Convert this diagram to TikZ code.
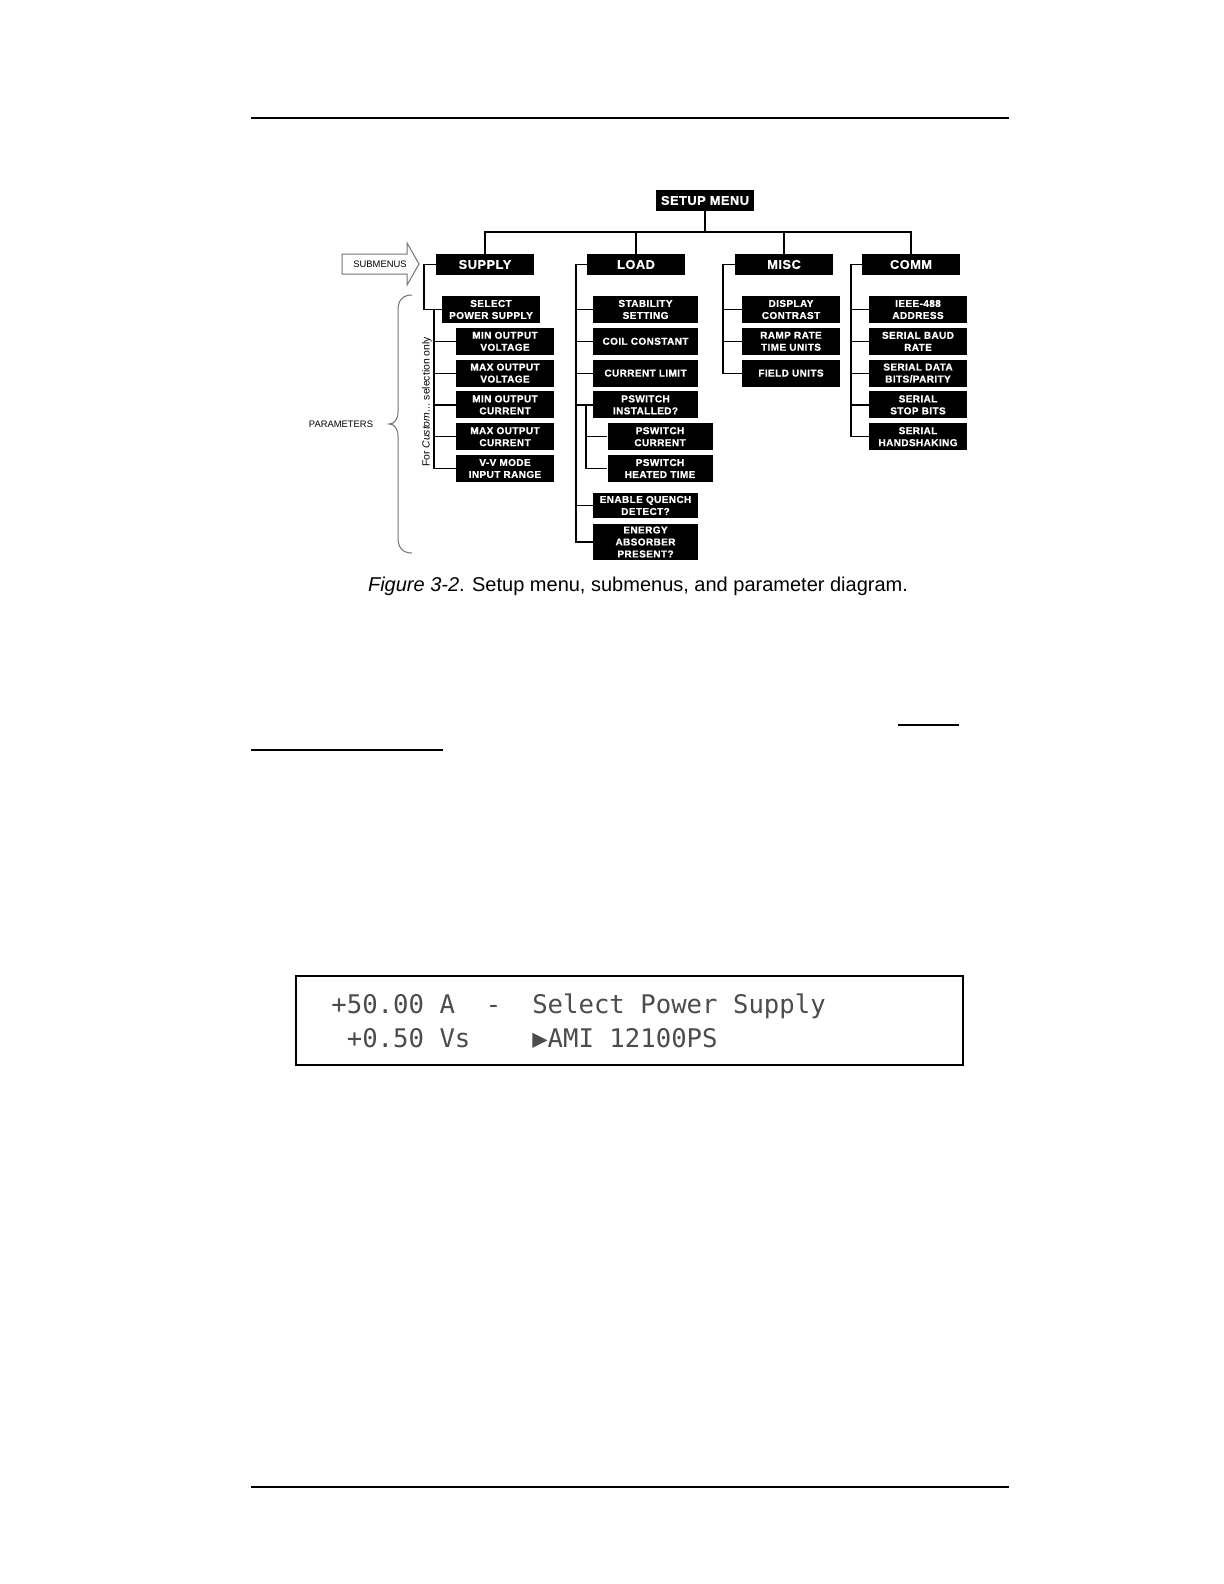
\documentclass[tikz,border=0pt]{standalone}
\usepackage{fontspec}
\setmainfont{Liberation Sans}
\newfontfamily\boxfont{Liberation Sans Bold}[LetterSpace=4, FakeBold=0.8]
\newfontfamily\lcdfont{DejaVu Sans Mono}
\begin{document}
\begin{tikzpicture}[x=0.5pt,y=-0.5pt,
  bx/.style={fill=black, text=white, font=\boxfont\fontsize{5}{6}\selectfont, align=center, inner sep=0pt, minimum height=13.5pt},
  sw/.style={minimum width=49pt},
  lw/.style={minimum width=52.5pt},
  hd/.style={fill=black, text=white, font=\boxfont\fontsize{6.4}{7.5}\selectfont, inner sep=0pt, minimum width=49pt, minimum height=10.5pt},
  ln/.style={line width=0.6pt},
  rule/.style={line width=1pt},
  lcd/.style={font=\lcdfont\fontsize{12.83}{14}\selectfont, text=black!70, inner sep=0pt, anchor=base west},
  lbl/.style={font=\fontsize{4.7}{5.5}\selectfont, inner sep=0pt},
  gr/.style={draw=black!55, line width=0.5pt}
]
\useasboundingbox (0,0) rectangle (1224,1584);
\fill[white] (0,0) rectangle (1224,1584);

% page rules
\draw[rule] (251,118) -- (1009,118);
\draw[rule] (251,1487) -- (1009,1487);
\draw[rule] (898,724.5) -- (959,724.5);
\draw[rule] (251,750) -- (443,750);

% headers
\node[hd] (setup) at (705,200.5) {SETUP MENU};
\node[hd] (supply) at (485,264.5) {SUPPLY};
\node[hd] (load) at (636,264.5) {LOAD};
\node[hd] (misc) at (784,264.5) {MISC};
\node[hd] (comm) at (911,264.5) {COMM};

% supply column
\node[bx,sw] (sel) at (491,309.5) {SELECT\\POWER SUPPLY};
\node[bx,sw] (minv) at (505,341.3) {MIN OUTPUT\\VOLTAGE};
\node[bx,sw] (maxv) at (505,373.1) {MAX OUTPUT\\VOLTAGE};
\node[bx,sw] (minc) at (505,404.9) {MIN OUTPUT\\CURRENT};
\node[bx,sw] (maxc) at (505,436.7) {MAX OUTPUT\\CURRENT};
\node[bx,sw] (vv) at (505,468.5) {V-V MODE\\INPUT RANGE};

% load column
\node[bx,lw] (stab) at (645.5,309.5) {STABILITY\\SETTING};
\node[bx,lw] (coil) at (645.5,341.3) {COIL CONSTANT};
\node[bx,lw] (clim) at (645.5,373.1) {CURRENT LIMIT};
\node[bx,lw] (psi) at (645.5,404.9) {PSWITCH\\INSTALLED?};
\node[bx,lw] (psc) at (660,436.7) {PSWITCH\\CURRENT};
\node[bx,lw] (psh) at (660,468.5) {PSWITCH\\HEATED TIME};
\node[bx,lw,minimum height=12.5pt] (enq) at (645.5,505.5) {ENABLE QUENCH\\DETECT?};
\node[bx,lw,minimum height=18pt] (ener) at (645.5,542) {ENERGY\\ABSORBER\\PRESENT?};

% misc column
\node[bx,sw] (disp) at (791,309.5) {DISPLAY\\CONTRAST};
\node[bx,sw] (ramp) at (791,341.3) {RAMP RATE\\TIME UNITS};
\node[bx,sw] (field) at (791,373.1) {FIELD UNITS};

% comm column
\node[bx,sw] (ieee) at (918,309.5) {IEEE-488\\ADDRESS};
\node[bx,sw] (baud) at (918,341.3) {SERIAL BAUD\\RATE};
\node[bx,sw] (data) at (918,373.1) {SERIAL DATA\\BITS/PARITY};
\node[bx,sw] (stop) at (918,404.9) {SERIAL\\STOP BITS};
\node[bx,sw] (hand) at (918,436.7) {SERIAL\\HANDSHAKING};

% bus coordinates
\coordinate (bus) at (705,232);
\coordinate (sv) at (424,0);
\coordinate (sv2) at (434,0);
\coordinate (lv) at (576,0);
\coordinate (lv2) at (586,0);
\coordinate (mv) at (723,0);
\coordinate (cv) at (851,0);

% top tree
\draw[ln] (setup.south) -- (setup.south |- bus);
\draw[ln] (supply.north) |- (bus) -| (comm.north);
\draw[ln] (load.north) -- (load.north |- bus);
\draw[ln] (misc.north) -- (misc.north |- bus);

% supply connectors
\draw[ln] (supply.west) -- (supply.west -| sv) |- (sel.west);
\draw[ln] (sel.west -| sv2) |- (vv.west);
\foreach \n in {minv,maxv,minc,maxc} \draw[ln] (\n.west) -- (\n.west -| sv2);

% load connectors
\draw[ln] (load.west) -- (load.west -| lv) |- (ener.west);
\foreach \n in {stab,coil,clim,psi,enq} \draw[ln] (\n.west) -- (\n.west -| lv);
\draw[ln] (psi.west -| lv2) |- (psh.west);
\draw[ln] (psc.west) -- (psc.west -| lv2);

% misc connectors
\draw[ln] (misc.west) -- (misc.west -| mv) |- (field.west);
\foreach \n in {disp,ramp} \draw[ln] (\n.west) -- (\n.west -| mv);

% comm connectors
\draw[ln] (comm.west) -- (comm.west -| cv) |- (hand.west);
\foreach \n in {ieee,baud,data,stop} \draw[ln] (\n.west) -- (\n.west -| cv);

% submenus arrow
\draw[gr, fill=white] (342,254) -- (407,254) -- (407,243) -- (419,264) -- (407,285) -- (407,274) -- (342,274) -- cycle;
\node[lbl] (sublbl) at (380,264.5) {SUBMENUS};

% parameters brace
\draw[gr] (412,295) .. controls (403,295) and (398,300) .. (398,310) -- (398,412)
  .. controls (398,420) and (394,424) .. (389,424)
  .. controls (394,424) and (398,428) .. (398,436) -- (398,538)
  .. controls (398,548) and (403,553) .. (412,553);
\node[lbl] (parlbl) at (341,424) {PARAMETERS};
\node[font=\fontsize{5.2}{6}\selectfont, inner sep=0pt, rotate=90] (custom) at (427,402) {For \textit{Custom}... selection only};

% caption
\node[font=\fontsize{10}{12}\selectfont, inner sep=0pt] (caption) at (638,586) {\textit{Figure 3-2}. Setup menu, submenus, and parameter diagram.};

% LCD display
\draw[line width=0.9pt] (296,976) rectangle (963,1065);
\node[lcd] (l1a) at (331,1013) {+50.00 A};
\node[lcd] (l1b) at (331+10*15.45,1013) {-};
\node[lcd] (l1c) at (331+13*15.45,1013) {Select Power Supply};
\node[lcd] (l2a) at (331+1*15.45,1047) {+0.50 Vs};
\node[lcd] (l2b) at (331+13*15.45,1047) {▶AMI 12100PS};
\end{tikzpicture}
\end{document}
